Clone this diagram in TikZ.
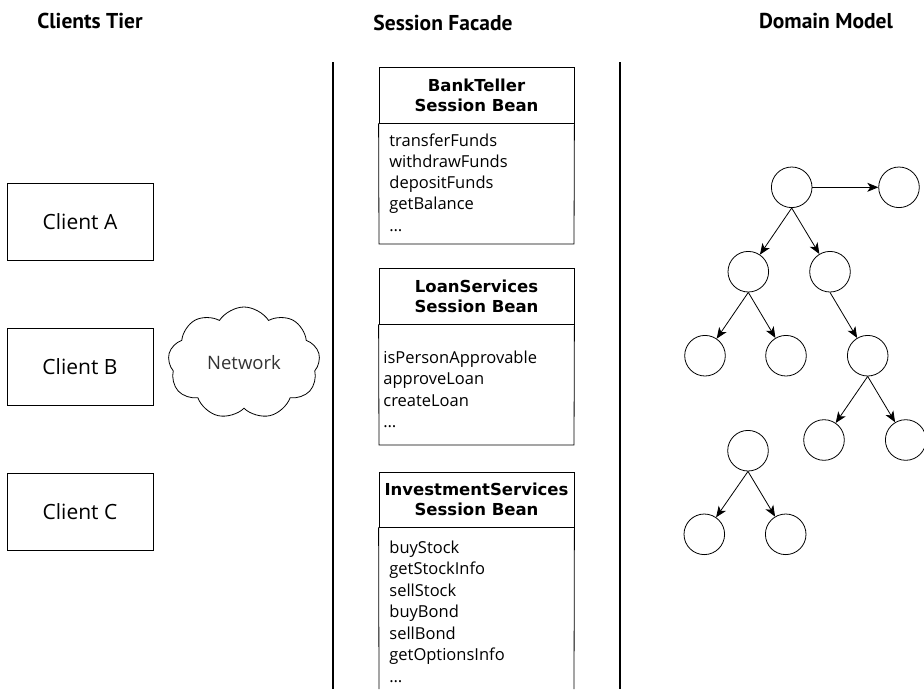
\documentclass[tikz,border=0pt]{standalone}
\usepackage{fontspec}
\setmainfont{Open Sans}
\newfontfamily\headfont{PT Sans}
\newfontfamily\beanfont{DejaVu Sans}
\usepackage{tikz}
\usetikzlibrary{arrows.meta}
\usetikzlibrary{shapes.symbols}

\begin{document}
\begin{tikzpicture}[x=1pt,y=-1pt,line width=0.8pt,
    tier/.style={font=\headfont\bfseries\fontsize{21.5}{26}\selectfont},
    client/.style={draw,rectangle,minimum width=146,minimum height=77,font=\fontsize{21}{25}\selectfont},
    beanhead/.style={draw,rectangle,minimum width=195,align=center,font=\beanfont\bfseries\fontsize{16.5}{20}\selectfont},
    op/.style={anchor=west,inner sep=0pt,text height=12pt,text depth=4pt,font=\fontsize{16.5}{21}\selectfont},
    obj/.style={draw,circle,minimum size=40.6,inner sep=0pt},
    link/.style={-{Stealth[length=11pt,width=9pt,inset=3pt]}}]
\useasboundingbox (0,0) rectangle (924,689);
% column titles
\node[tier] (clients) at (90,21) {Clients Tier};
\node[tier] (facade) at (443,23) {Session Facade};
\node[tier] (domain) at (826,21) {Domain Model};
\draw[line width=1.6pt] (333,62) -- (333,689);
\draw[line width=1.6pt] (620,62) -- (620,689);
% clients
\node[client] (clientA) at (80,221.5) {Client A};
\node[client] (clientB) at (80,367) {Client B};
\node[client] (clientC) at (80,511.5) {Client C};
\node[draw,cloud,cloud puffs=9,cloud puff arc=115,aspect=1.4,minimum width=152,minimum height=112,
      text=black!80,font=\fontsize{18.5}{20}\selectfont] (network) at (244,363) {Network};
% session beans
\node[beanhead,minimum height=56] (tellerhead) at (476.5,95) {BankTeller\\Session Bean};
\draw (tellerhead.south west) -- (379,244) -- (574,244) -- (tellerhead.south east);
\foreach \m [count=\i] in {transferFunds,withdrawFunds,depositFunds,getBalance,\ldots}
  \node[op] (teller\i) at (389,{142+21.3*(\i-1)}) {\m};
\node[beanhead,minimum height=56] (loanhead) at (476.5,296) {LoanServices\\Session Bean};
\draw (loanhead.south west) -- (379,445) -- (574,445) -- (loanhead.south east);
\foreach \m [count=\i] in {isPersonApprovable,approveLoan,createLoan,\ldots}
  \node[op] (loan\i) at (383,{359+21.5*(\i-1)}) {\m};
\node[beanhead,minimum height=55] (investhead) at (476.5,499.5) {InvestmentServices\\Session Bean};
\draw (investhead.south west) -- (379,689);
\draw (investhead.south east) -- (574,689);
\foreach \m [count=\i] in {buyStock,getStockInfo,sellStock,buyBond,sellBond,getOptionsInfo,\ldots}
  \node[op] (invest\i) at (389,{549+21.5*(\i-1)}) {\m};
% domain model
\node[obj] (root) at (791.7,187.3) {};
\node[obj] (peer) at (899,187.3) {};
\node[obj] (l) at (748.3,271.7) {};
\node[obj] (r) at (830,271.7) {};
\node[obj] (ll) at (705,355.7) {};
\node[obj] (lr) at (786,355.7) {};
\node[obj] (rr) at (867.7,355.7) {};
\node[obj] (rrl) at (824,440) {};
\node[obj] (rrr) at (905.7,440) {};
\node[obj] (top) at (748,450.7) {};
\node[obj] (topl) at (704.3,534.3) {};
\node[obj] (topr) at (785.7,534.3) {};
\draw[link] (root) -- (peer);
\foreach \p/\c in {root/l,root/r,l/ll,l/lr,r/rr,rr/rrl,rr/rrr,top/topl,top/topr}
  \draw[link] (\p.south) -- (\c);
\end{tikzpicture}
\end{document}
